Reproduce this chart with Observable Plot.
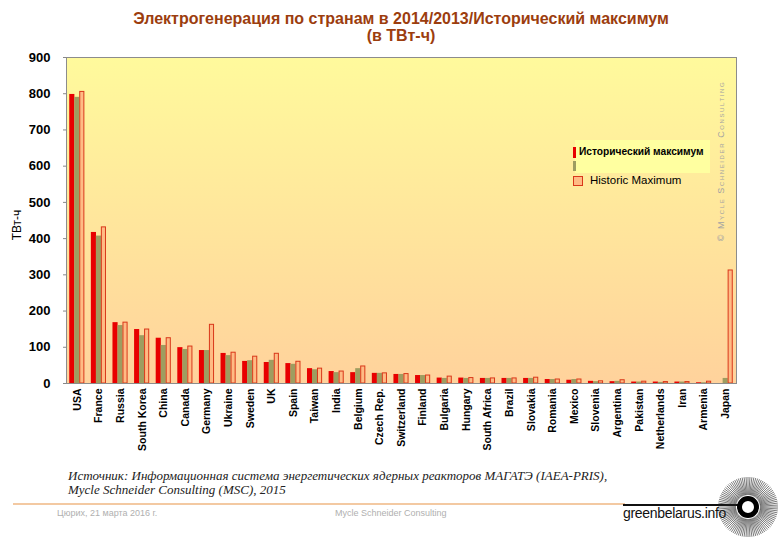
<!DOCTYPE html>
<html>
<head>
<meta charset="utf-8">
<script src="https://cdn.jsdelivr.net/npm/d3@7"></script>
<script src="https://cdn.jsdelivr.net/npm/@observablehq/plot@0.6"></script>
<style>
  body { margin: 0; background: #fff; }
  #page { position: relative; width: 780px; height: 540px; overflow: hidden; font-family: "Liberation Sans", Arial, sans-serif; }
  #title { position: absolute; left: 0; top: 10px; width: 802px; text-align: center; font-weight: bold; font-size: 16px; line-height: 17px; color: #9c3d0e; }
  #chart { position: absolute; left: 0; top: 50px; }
  #ylab { position: absolute; left: 17px; top: 225px; transform: translate(-50%, -50%) rotate(-90deg); font-size: 12px; white-space: nowrap; }
  .abs { position: absolute; }
  #copy { position: absolute; left: 721px; top: 161px; transform: translate(-50%, -50%) rotate(-90deg); font-size: 9px; font-variant: small-caps; letter-spacing: 1.6px; color: #a3a3a3; white-space: nowrap; }
  #caption { position: absolute; left: 68px; top: 469px; font-family: "Liberation Serif", "Times New Roman", serif; font-style: italic; font-size: 13px; line-height: 14px; color: #222; white-space: nowrap; }
  .foot { position: absolute; top: 508px; font-size: 9px; color: #b0b0b0; white-space: nowrap; }
  #gb { position: absolute; left: 623px; top: 505px; font-family: "Liberation Sans Narrow", "Arial Narrow", "Liberation Sans", sans-serif; font-size: 14px; color: #111; white-space: nowrap; letter-spacing: -0.3px; }
</style>
</head>
<body>
<div id="page">
  <div id="title">Электрогенерация по странам в 2014/2013/Исторический максимум<br>(в ТВт-ч)</div>
  <div id="chart"></div>
  <div id="ylab">ТВт-ч</div>
  <div id="copy">© Mycle Schneider Consulting</div>

  <div class="abs" style="left:575px;top:140px;width:135px;height:33px;background:#ffffa0;"></div>
  <div class="abs" style="left:573px;top:147px;width:3px;height:11px;background:#e80000;"></div>
  <div class="abs" style="left:579px;top:146px;font-size:10.2px;font-weight:bold;white-space:nowrap;">Исторический максимум</div>
  <div class="abs" style="left:573px;top:161px;width:3px;height:10px;background:#9e9d60;"></div>
  <div class="abs" style="left:573px;top:176px;width:8px;height:8px;background:#ffbb84;border:1px solid #d9381a;"></div>
  <div class="abs" style="left:590px;top:174px;font-size:11.5px;white-space:nowrap;">Historic Maximum</div>

  <div id="caption">Источник: Информационная система энергетических ядерных реакторов МАГАТЭ (IAEA-PRIS),<br>Mycle Schneider Consulting (MSC), 2015</div>
  <div class="abs" style="left:13px;top:503px;width:612px;height:2px;background:#f3c9a2;"></div>
  <div class="abs" style="left:623px;top:504px;width:118px;height:2px;background:#111;"></div>
  <div class="foot" style="left:57px;">Цюрих, 21 марта 2016 г.</div>
  <div class="foot" style="left:335px;">Mycle Schneider Consulting</div>
  <div id="gb">greenbelarus.info</div>
  <svg id="logo" class="abs" style="left:716px;top:475px;" width="64" height="64"></svg>
</div>
<script>
const countries = ["USA","France","Russia","South Korea","China","Canada","Germany","Ukraine","Sweden","UK","Spain","Taiwan","India","Belgium","Czech Rep.","Switzerland","Finland","Bulgaria","Hungary","South Africa","Brazil","Slovakia","Romania","Mexico","Slovenia","Argentina","Pakistan","Netherlands","Iran","Armenia","Japan"];
const gen2014 = [798,417,168,149,125,99,91,83,61,58,55,41,33,30,28,25,22,15,15,14,14,14,11,9,6,5,4,4,4,2,0];
const gen2013 = [790,407,160,132,105,94,91,77,63,64,53,38,30,41,28,25,22,14,14,14,14,14,11,11,5,6,4,3,4,2,14];
const histMax = [805,431,168,149,125,102,162,85,74,82,60,41,33,47,28,26,22,19,15,14,14,16,11,11,6,9,5,4,4,5,312];
const yTicks = [0,100,200,300,400,500,600,700,800,900];

const rows = countries.map((c, i) => ({country: c, v2014: gen2014[i], v2013: gen2013[i], max: histMax[i]}));

const chart = Plot.plot({
  width: 780,
  height: 410,
  marginTop: 7,
  marginRight: 44,
  marginBottom: 77,
  marginLeft: 66,
  style: {background: "transparent", fontFamily: "'Liberation Sans', Arial, sans-serif", color: "#000", overflow: "visible"},
  x: {domain: countries, paddingInner: 0.3, paddingOuter: 0.15, round: false},
  y: {domain: [0, 900]},
  marks: [
    Plot.frame({fill: "#fee6a0"}),
    Plot.barY(rows, {x: "country", y: "v2014", fill: "#e80000", insetRight: 10}),
    Plot.barY(rows, {x: "country", y: "v2013", fill: "#9e9d60", insetLeft: 5, insetRight: 5}),
    Plot.barY(rows, {x: "country", y: "max", fill: "#ffbb84", stroke: "#d9381a", strokeWidth: 1, insetLeft: 10.5, insetRight: 0.5}),
    Plot.axisY({ticks: yTicks, tickSize: 3, tickPadding: 13, fontSize: 13, fontWeight: "bold", stroke: "#888", label: null}),
    Plot.axisX({tickSize: 0, tickPadding: 5, tickRotate: -90, fontSize: 10.5, fontWeight: "bold", label: null}),
    Plot.frame({stroke: "#8c8c8c"})
  ]
});
document.getElementById("chart").appendChild(chart);

// gradient background for the plot area
const svg = d3.select(chart);
const grad = svg.insert("defs", ":first-child").append("linearGradient")
  .attr("id", "bgGrad").attr("x1", 0).attr("y1", 0).attr("x2", 0).attr("y2", 1);
grad.append("stop").attr("offset", "0%").attr("stop-color", "#fffa9c");
grad.append("stop").attr("offset", "100%").attr("stop-color", "#ffd29c");
svg.selectAll('[fill="#fee6a0"]').attr("fill", "url(#bgGrad)");

// decorative logo
const logo = d3.select("#logo");
const n = 96;
for (let i = 0; i < n; i++) {
  const a = (i / n) * 2 * Math.PI;
  logo.append("line")
    .attr("x1", 32 + 12 * Math.cos(a)).attr("y1", 32 + 12 * Math.sin(a))
    .attr("x2", 32 + 30 * Math.cos(a)).attr("y2", 32 + 30 * Math.sin(a))
    .attr("stroke", "#222").attr("stroke-width", 0.6);
}
logo.append("circle").attr("cx", 32).attr("cy", 32).attr("r", 8.5).attr("fill", "#fff").attr("stroke", "#000").attr("stroke-width", 5);
</script>
</body>
</html>
